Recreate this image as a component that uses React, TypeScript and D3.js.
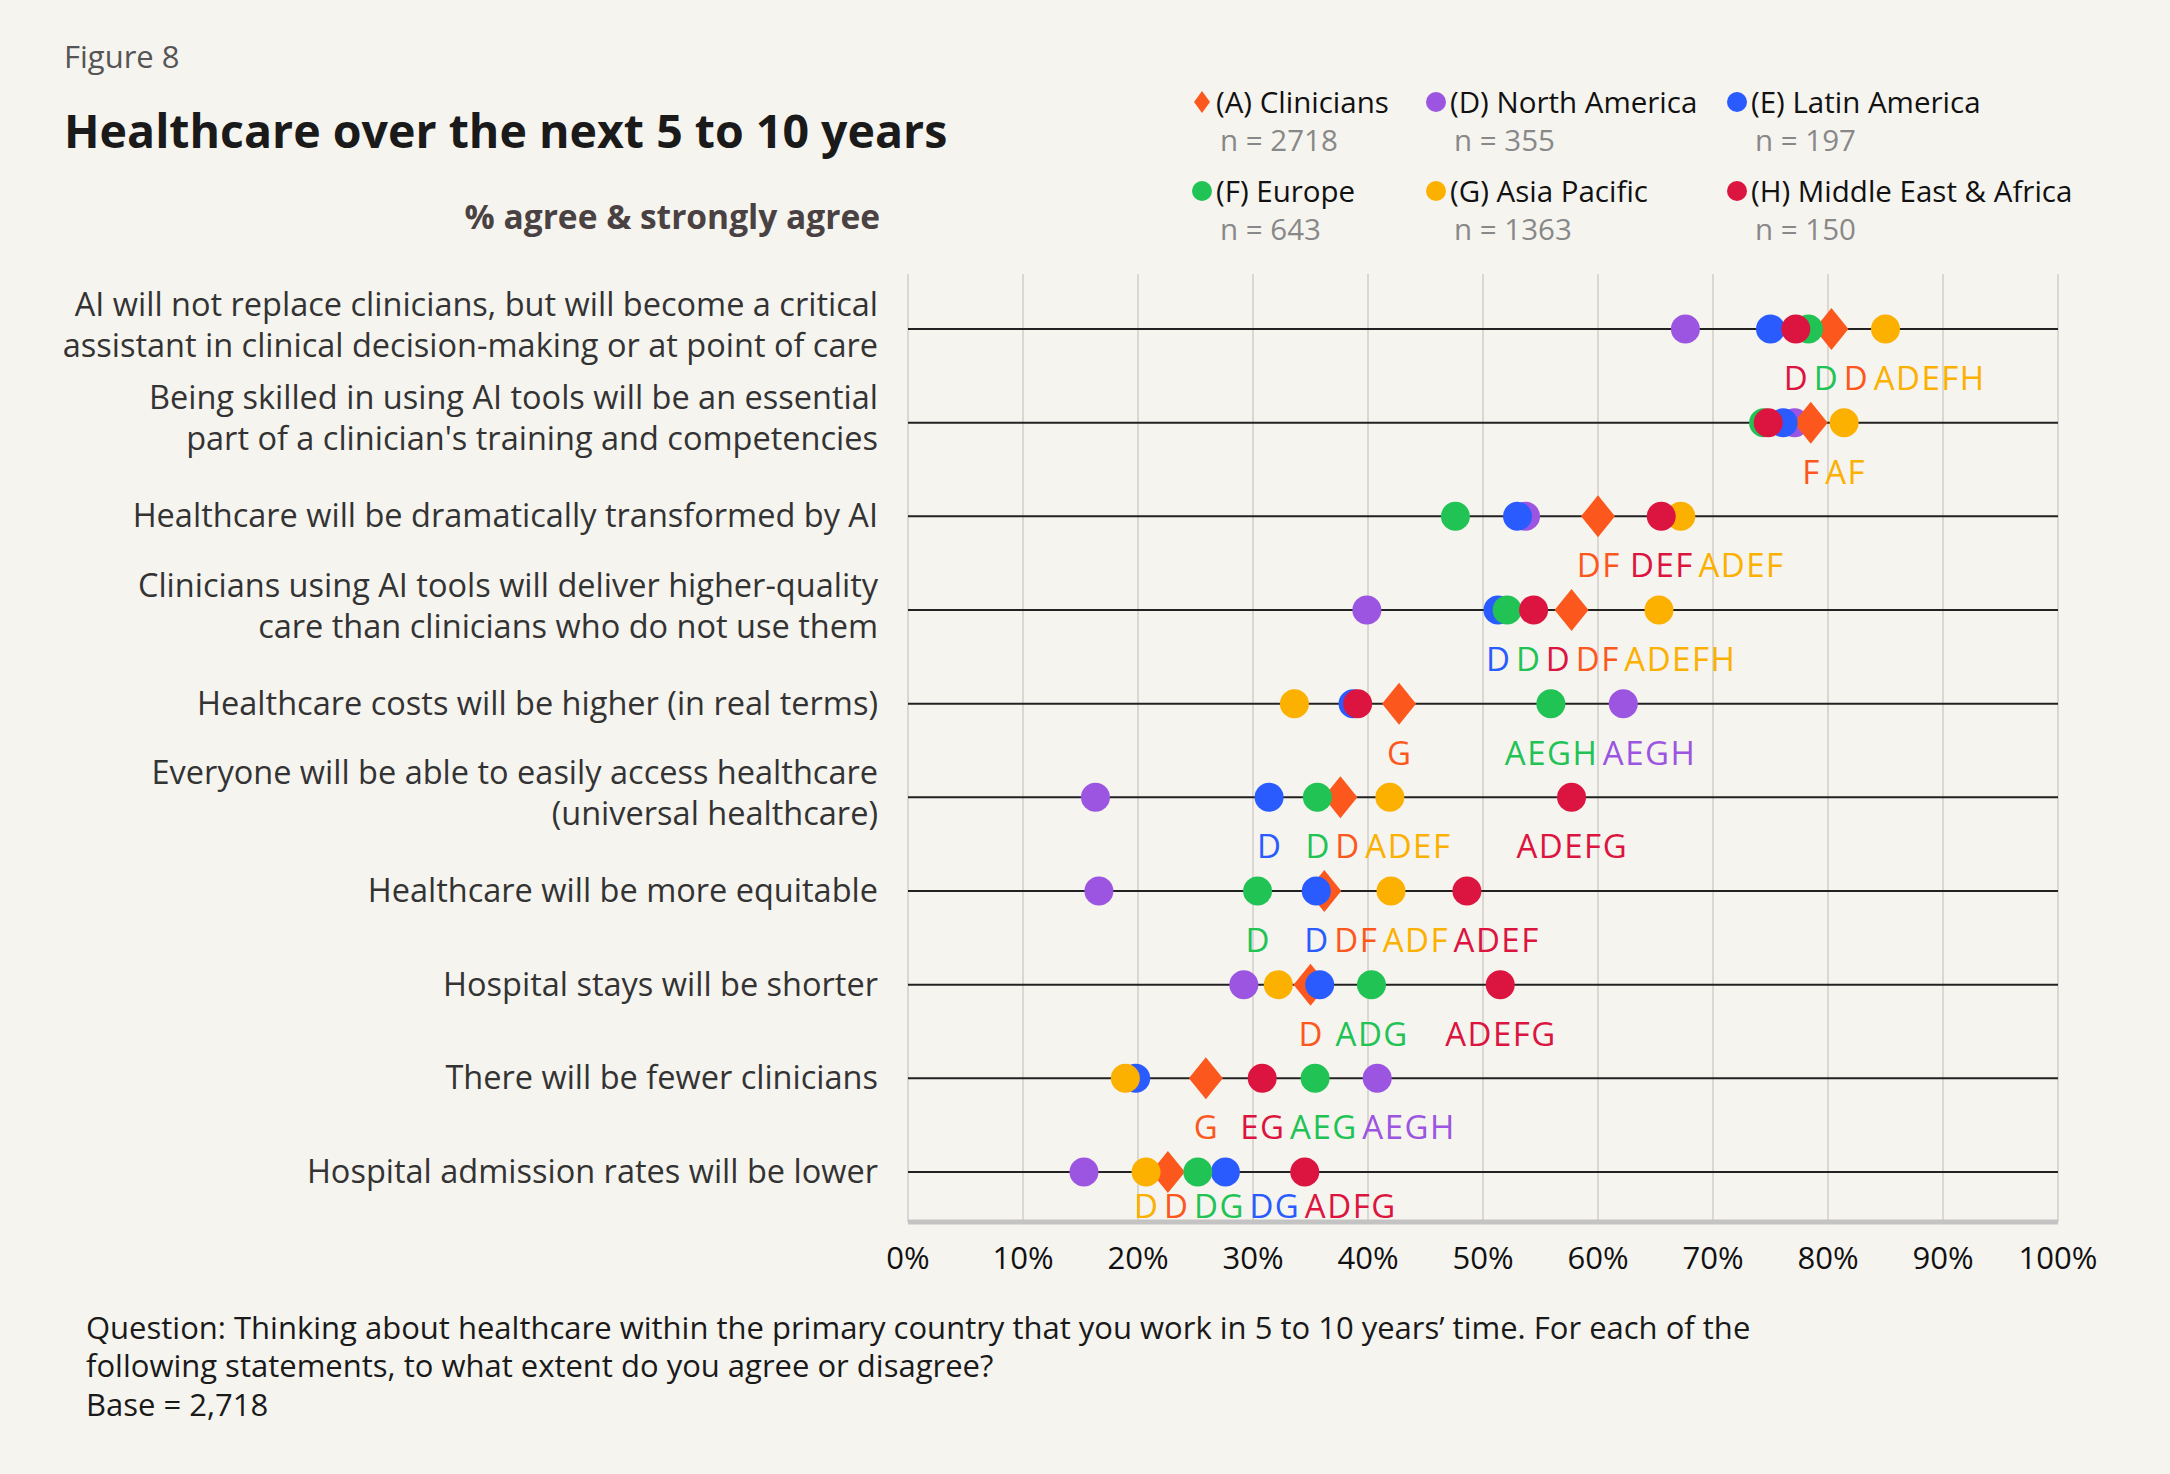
import React from "react";
import * as d3 from "d3";

// statements (row labels), top to bottom
const statements = [
  ["AI will not replace clinicians, but will become a critical", "assistant in clinical decision-making or at point of care"],
  ["Being skilled in using AI tools will be an essential", "part of a clinician's training and competencies"],
  ["Healthcare will be dramatically transformed by AI"],
  ["Clinicians using AI tools will deliver higher-quality", "care than clinicians who do not use them"],
  ["Healthcare costs will be higher (in real terms)"],
  ["Everyone will be able to easily access healthcare", "(universal healthcare)"],
  ["Healthcare will be more equitable"],
  ["Hospital stays will be shorter"],
  ["There will be fewer clinicians"],
  ["Hospital admission rates will be lower"],
];

// % agree & strongly agree, per group
const clinicians = [80.3, 78.5, 60.0, 57.7, 42.7, 37.6, 36.2, 35.0, 25.9, 22.6];
const northAmerica = [67.6, 77.1, 53.7, 39.9, 62.2, 16.3, 16.6, 29.2, 40.8, 15.3];
const latinAmerica = [75.0, 76.1, 53.0, 51.3, 38.7, 31.4, 35.5, 35.8, 19.8, 27.6];
const europe = [78.3, 74.4, 47.6, 52.1, 55.9, 35.6, 30.4, 40.3, 35.4, 25.2];
const asiaPacific = [85.0, 81.4, 67.2, 65.3, 33.6, 41.9, 42.0, 32.2, 18.9, 20.7];
const middleEastAfrica = [77.2, 74.8, 65.5, 54.4, 39.1, 57.7, 48.6, 51.5, 30.8, 34.5];

// significance letters under each marker
const cliniciansSig = ["D", "F", "DF", "DF", "G", "D", "DF", "D", "G", "D"];
const northAmericaSig = ["", "", "", "", "AEGH", "", "", "", "AEGH", ""];
const latinAmericaSig = ["", "", "", "D", "", "D", "D", "", "", "DG"];
const europeSig = ["D", "", "", "D", "AEGH", "D", "D", "ADG", "AEG", "DG"];
const asiaPacificSig = ["ADEFH", "AF", "ADEF", "ADEFH", "", "ADEF", "ADF", "", "", "D"];
const middleEastAfricaSig = ["D", "", "DEF", "D", "", "ADEFG", "ADEF", "ADEFG", "EG", "ADFG"];

const ticks = [0, 10, 20, 30, 40, 50, 60, 70, 80, 90, 100];

const series = [
  { key: "A", name: "(A) Clinicians", n: "n = 2718", color: "#fc581e", values: clinicians, sig: cliniciansSig, diamond: true },
  { key: "D", name: "(D) North America", n: "n = 355", color: "#9b55e0", values: northAmerica, sig: northAmericaSig },
  { key: "E", name: "(E) Latin America", n: "n = 197", color: "#2a5bff", values: latinAmerica, sig: latinAmericaSig },
  { key: "F", name: "(F) Europe", n: "n = 643", color: "#22c355", values: europe, sig: europeSig },
  { key: "G", name: "(G) Asia Pacific", n: "n = 1363", color: "#fcb000", values: asiaPacific, sig: asiaPacificSig },
  { key: "H", name: "(H) Middle East & Africa", n: "n = 150", color: "#dc1440", values: middleEastAfrica, sig: middleEastAfricaSig },
];
const drawOrder = ["D", "A", "E", "F", "G", "H"];

const FONT = "'Open Sans', 'Noto Sans', sans-serif";
const W = 2170;
const H = 1474;
const plotTop = 274;
const plotBottom = 1222;

const labelSize = 33;
const labelSpacing = 1.5;

let ctx: CanvasRenderingContext2D | null = null;
function textWidth(t: string, size: number) {
  if (!ctx) ctx = document.createElement("canvas").getContext("2d");
  if (!ctx) return t.length * size * 0.66;
  ctx.font = `${size}px 'Open Sans'`;
  return ctx.measureText(t).width + labelSpacing * (t.length - 1);
}

const diamondPath = (cx: number, cy: number, hw: number, hh: number) =>
  `M${cx},${cy - hh}L${cx + hw},${cy}L${cx},${cy + hh}L${cx - hw},${cy}Z`;

export default function App() {
  const x = d3.scaleLinear().domain([0, 100]).range([908, 2058]);
  const y = d3.scalePoint<number>().domain(d3.range(statements.length)).range([329, 1172]);

  const gap = 6;

  // significance letters, pushed right so they don't overlap
  const rowLabels = statements.map((_, i) => {
    const items = series
      .filter(s => s.sig[i])
      .map(s => ({ text: s.sig[i], color: s.color, cx: x(s.values[i]), w: textWidth(s.sig[i], labelSize) }))
      .sort((a, b) => a.cx - b.cx);
    for (let k = 1; k < items.length; k++) {
      const prev = items[k - 1];
      const minX = prev.cx + prev.w / 2 + gap + items[k].w / 2;
      if (items[k].cx < minX) items[k].cx = minX;
    }
    return items;
  });

  const legendCols = [1202, 1436, 1737];
  const legendRows = [102, 191];

  return (
    <svg width={W} height={H} style={{ position: "absolute", left: 0, top: 0 }} fontFamily={FONT}>
      <rect width={W} height={H} fill="#f6f4ef" />

      <text x={64} y={68} fontSize={31} fill="#555">Figure 8</text>
      <text x={64} y={148} fontSize={46.5} fontWeight={700} fill="#1a1a1a">Healthcare over the next 5 to 10 years</text>
      <text x={880} y={229} fontSize={33.5} fontWeight={700} fill="#4a4242" textAnchor="end">% agree &amp; strongly agree</text>

      {/* legend */}
      {series.map((s, i) => {
        const lx = legendCols[i % 3];
        const ly = legendRows[Math.floor(i / 3)];
        return (
          <g key={s.key}>
            {s.diamond ? (
              <path d={diamondPath(lx, ly, 8, 11)} fill={s.color} />
            ) : (
              <circle cx={lx} cy={ly} r={10} fill={s.color} />
            )}
            <text x={lx + 14} y={ly + 11} fontSize={29.5} fill="#111">{s.name}</text>
            <text x={lx + 18} y={ly + 49} fontSize={29.5} fill="#888">{s.n}</text>
          </g>
        );
      })}

      {/* vertical grid */}
      {ticks.map(t => (
        <line key={t} x1={x(t)} x2={x(t)} y1={plotTop} y2={plotBottom} stroke="#dbd7d2" strokeWidth={2} />
      ))}
      <line x1={x(0)} x2={x(100)} y1={plotBottom} y2={plotBottom} stroke="#c3c3c3" strokeWidth={5} />

      {ticks.map(t => (
        <text key={t} x={x(t)} y={1269} fontSize={31} fill="#111" textAnchor="middle">{t}%</text>
      ))}

      {/* rows */}
      {statements.map((lines, i) => {
        const cy = y(i) as number;
        const base = lines.length === 1 ? cy + 11 : cy - 4 - 20.5 + 11;
        return (
          <g key={i}>
            {lines.map((l, j) => (
              <text key={j} x={878} y={base + j * 41} fontSize={32.5} fill="#333" textAnchor="end">{l}</text>
            ))}
            <line x1={x(0)} x2={x(100)} y1={cy} y2={cy} stroke="#222" strokeWidth={2} />
          </g>
        );
      })}

      {/* markers */}
      {statements.map((_, i) => {
        const cy = y(i) as number;
        return (
          <g key={i}>
            {drawOrder.map(k => {
              const s = series.find(d => d.key === k)!;
              const cx = x(s.values[i]);
              return s.diamond ? (
                <path key={k} d={diamondPath(cx, cy, 17, 21)} fill={s.color} />
              ) : (
                <circle key={k} cx={cx} cy={cy} r={14.5} fill={s.color} />
              );
            })}
          </g>
        );
      })}

      {/* significance letters */}
      {rowLabels.map((items, i) => {
        const cy = y(i) as number;
        const ly = Math.min(cy + 50, plotBottom - 15) + 11;
        return (
          <g key={i}>
            {items.map((it, k) => (
              <text key={k} x={it.cx + labelSpacing / 2} y={ly} fontSize={labelSize} letterSpacing={labelSpacing} fill={it.color} textAnchor="middle">{it.text}</text>
            ))}
          </g>
        );
      })}

      {/* footnote */}
      <text x={86} y={1339} fontSize={31} fill="#1a1a1a">Question: Thinking about healthcare within the primary country that you work in 5 to 10 years’ time. For each of the</text>
      <text x={86} y={1377} fontSize={31} fill="#1a1a1a">following statements, to what extent do you agree or disagree?</text>
      <text x={86} y={1416} fontSize={31} fill="#1a1a1a">Base = 2,718</text>
    </svg>
  );
}
